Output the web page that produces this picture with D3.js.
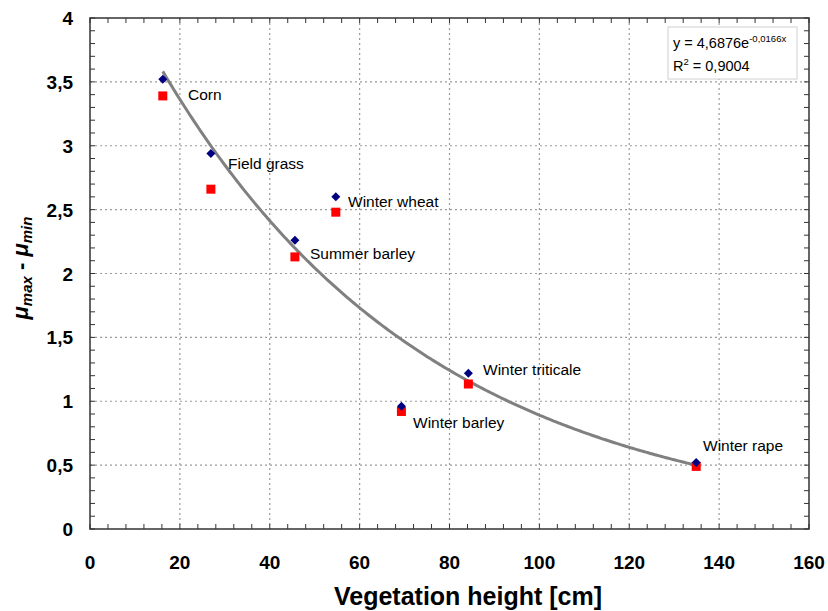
<!DOCTYPE html>
<html>
<head>
<meta charset="utf-8">
<script src="https://cdn.jsdelivr.net/npm/d3@7"></script>
<style>
  body { margin: 0; background: #fff; }
  svg { display: block; font-family: Arial, "Liberation Sans", sans-serif; }
</style>
</head>
<body>
<svg id="chart" width="828" height="611"></svg>
<script>
// Crop names and their vegetation heights [cm]
const crops = ["Corn", "Field grass", "Summer barley", "Winter wheat", "Winter barley", "Winter triticale", "Winter rape"];
const heights = [16.2, 26.9, 45.6, 54.7, 69.3, 84.2, 134.9];
// μmax - μmin, two measurement series
const diamondValues = [3.52, 2.94, 2.26, 2.60, 0.96, 1.22, 0.52];
const squareValues  = [3.39, 2.66, 2.13, 2.48, 0.92, 1.135, 0.49];
// Exponential trend fit
const fitA = 4.6876, fitB = -0.0166, fitR2 = 0.9004;
const fitRange = [16.2, 134.9];
const xTicks = [0, 20, 40, 60, 80, 100, 120, 140, 160];
const yTicks = [0, 0.5, 1, 1.5, 2, 2.5, 3, 3.5, 4];

const svg = d3.select("#chart");
const L = 90, R = 809, T = 18, B = 529;
const x = d3.scaleLinear().domain([0, 160]).range([L, R]);
const y = d3.scaleLinear().domain([0, 4]).range([B, T]);
const fmt = v => String(v).replace(".", ",");

// grid lines
const g = svg.append("g");
g.selectAll(".gx").data(xTicks.filter(t => t > 0 && t < 160)).enter().append("line")
  .attr("x1", d => x(d)).attr("x2", d => x(d)).attr("y1", T).attr("y2", B)
  .attr("stroke", "#9a9a9a").attr("stroke-width", 1.2).attr("stroke-dasharray", "2,3");
g.selectAll(".gy").data(yTicks.filter(t => t > 0 && t < 4)).enter().append("line")
  .attr("x1", L).attr("x2", R).attr("y1", d => y(d)).attr("y2", d => y(d))
  .attr("stroke", "#9a9a9a").attr("stroke-width", 1.2).attr("stroke-dasharray", "2,3");

// inward ticks on all four sides
const xMinor = d3.range(0, 160.01, 4);
const yMinor = d3.range(0, 40.01, 1).map(v => v / 10);
const tk = svg.append("g").attr("stroke", "#333").attr("stroke-width", 1);
xMinor.forEach(v => {
  tk.append("line").attr("x1", x(v)).attr("x2", x(v)).attr("y1", B).attr("y2", B - 5);
  tk.append("line").attr("x1", x(v)).attr("x2", x(v)).attr("y1", T).attr("y2", T + 5);
});
yMinor.forEach(v => {
  tk.append("line").attr("x1", L).attr("x2", L + 5).attr("y1", y(v)).attr("y2", y(v));
  tk.append("line").attr("x1", R).attr("x2", R - 5).attr("y1", y(v)).attr("y2", y(v));
});

// frame
svg.append("rect").attr("x", L).attr("y", T).attr("width", R - L).attr("height", B - T)
  .attr("fill", "none").attr("stroke", "#333").attr("stroke-width", 1.5);

// tick labels
svg.selectAll(".xl").data(xTicks).enter().append("text")
  .attr("x", d => x(d)).attr("y", 569).attr("text-anchor", "middle")
  .attr("font-size", 19).attr("font-weight", "bold").text(d => d);
svg.selectAll(".yl").data(yTicks).enter().append("text")
  .attr("x", 73).attr("y", d => y(d) + 7).attr("text-anchor", "end")
  .attr("font-size", 19).attr("font-weight", "bold").text(fmt);

// axis titles
svg.append("text").attr("x", 468).attr("y", 605).attr("text-anchor", "middle")
  .attr("font-size", 25).attr("font-weight", "bold").text("Vegetation height [cm]");
const yt = svg.append("text").attr("transform", "translate(28,268) rotate(-90)")
  .attr("text-anchor", "middle").attr("font-size", 22).attr("font-weight", "bold").attr("font-style", "italic");
yt.append("tspan").text("μ");
yt.append("tspan").attr("font-size", 15).attr("dy", 4).text("max");
yt.append("tspan").attr("dy", -4).attr("font-style", "normal").text(" - ");
yt.append("tspan").text("μ");
yt.append("tspan").attr("font-size", 15).attr("dy", 4).text("min");

// trend curve
const curve = d3.range(fitRange[0], fitRange[1] + 0.01, 0.5).map(v => [v, fitA * Math.exp(fitB * v)]);
svg.append("path").datum(curve)
  .attr("d", d3.line().x(d => x(d[0])).y(d => y(d[1])))
  .attr("fill", "none").attr("stroke", "#808080").attr("stroke-width", 3);

// squares
svg.selectAll(".sq").data(heights).enter().append("rect")
  .attr("x", (d) => x(d) - 4.5).attr("y", (d, i) => y(squareValues[i]) - 4.5)
  .attr("width", 9).attr("height", 9).attr("fill", "#ff0000");
// diamonds
svg.selectAll(".dm").data(heights).enter().append("path")
  .attr("d", (d, i) => {
    const cx = x(d), cy = y(diamondValues[i]), r = 4.5;
    return `M${cx},${cy - r}L${cx + r},${cy}L${cx},${cy + r}L${cx - r},${cy}Z`;
  })
  .attr("fill", "#000080");

// crop labels
const labelPos = {
  "Corn": [188, 100], "Field grass": [228, 169], "Summer barley": [310, 259],
  "Winter wheat": [348, 207], "Winter barley": [413, 428], "Winter triticale": [483, 375],
  "Winter rape": [703, 451]
};
svg.selectAll(".cl").data(crops).enter().append("text")
  .attr("x", d => labelPos[d][0]).attr("y", d => labelPos[d][1])
  .attr("font-size", 15.5).attr("fill", "#000").text(d => d);

// equation box
svg.append("rect").attr("x", 668).attr("y", 27).attr("width", 129).attr("height", 52)
  .attr("fill", "#fff").attr("stroke", "#d0d0d0").attr("stroke-width", 1);
const e1 = svg.append("text").attr("x", 673).attr("y", 48).attr("font-size", 14.5);
e1.append("tspan").text("y = " + fmt(fitA) + "e");
e1.append("tspan").attr("font-size", 9.5).attr("dy", -6).text(fmt(fitB) + "x");
const e2 = svg.append("text").attr("x", 673).attr("y", 71).attr("font-size", 14.5);
e2.append("tspan").text("R");
e2.append("tspan").attr("font-size", 9.5).attr("dy", -6).text("2");
e2.append("tspan").attr("dy", 6).text(" = " + fmt(fitR2));
</script>
</body>
</html>
